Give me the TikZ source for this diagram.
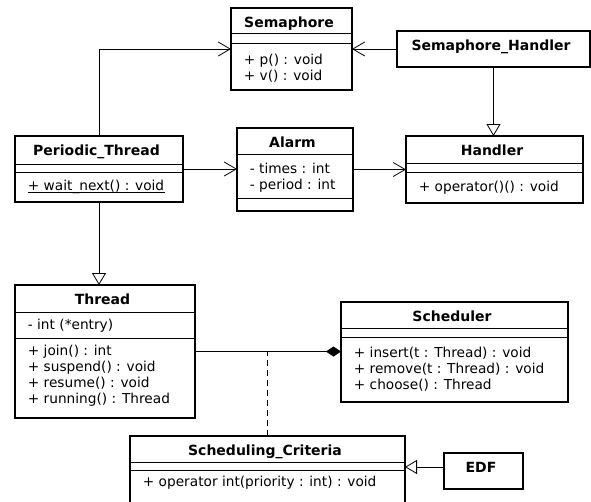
\documentclass[tikz,border=0pt]{standalone}
\usepackage{fontspec}
\setmainfont{DejaVu Sans}
\usetikzlibrary{arrows.meta}

\newcommand{\umlfont}{\fontsize{13.7}{16}\selectfont}
\newcommand{\umlbold}{\fontsize{14}{16}\selectfont\bfseries}

\begin{document}
\begin{tikzpicture}
[x=1pt,y=-1pt,line width=0.8pt]

  \tikzstyle{class}=[draw=black,line width=1.6pt,anchor=north west,inner sep=0pt,outer sep=0pt]
  \tikzstyle{cname}=[font=\umlbold,anchor=base,inner sep=0pt,xshift=-2.5pt]
  \tikzstyle{member}=[font=\umlfont,anchor=base west,inner sep=0pt]
  \tikzstyle{split}=[line width=0.8pt]
  \tikzstyle{uses}=[-{Straight Barb[length=12pt,width=14pt]}]
  \tikzstyle{extends}=[-{Triangle[open,length=12pt,width=14pt]}]
  \tikzstyle{owns}=[-{Diamond[length=15pt,width=10pt]}]

  \path[fill=white,use as bounding box] (0,0) rectangle (591,501);

  % classes
  \node[class,minimum width=121,minimum height=82]  (sem)    at (231,8)   {};
  \node[class,minimum width=193,minimum height=36]  (semh)   at (397,31)  {};
  \node[class,minimum width=168,minimum height=66]  (per)    at (15,136)  {};
  \node[class,minimum width=116,minimum height=83]  (alarm)  at (237,128) {};
  \node[class,minimum width=177,minimum height=67]  (hand)   at (406,136) {};
  \node[class,minimum width=180,minimum height=133] (thread) at (15,285)  {};
  \node[class,minimum width=227,minimum height=100] (sched)  at (341,302) {};
  \node[class,minimum width=275,minimum height=67]  (crit)   at (130,436) {};
  \node[class,minimum width=79,minimum height=36]   (edf)    at (444,453) {};

  % class names
  \foreach \n/\t in {sem/Semaphore, semh/Semaphore\_Handler, per/Periodic\_Thread,
                     alarm/Alarm, hand/Handler, thread/Thread, sched/Scheduler,
                     crit/Scheduling\_Criteria, edf/EDF}
    \node[cname] (\n N) at ([yshift=-19pt]\n.north) {\t};

  % compartments
  \foreach \n/\a/\b in {sem/25/35, per/28/36, alarm/26/70, hand/27/36,
                        thread/27/53, sched/26/35, crit/26/34} {
    \draw[split] ([yshift=-\a pt]\n.north west) -- ([yshift=-\a pt]\n.north east);
    \draw[split] ([yshift=-\b pt]\n.north west) -- ([yshift=-\b pt]\n.north east);
  }

  % members
  \foreach \t [count=\i from 0] in {{+ p() : void}, {+ v() : void}}
    \node[member] (semM\i) at ([xshift=12.5pt,yshift={-56pt-16pt*\i}]sem.north west) {\t};
  \node[member] (perM0) at ([xshift=12.5pt,yshift=-54pt]per.north west) {+ wait\_next() : void};
  \draw ([yshift=-2pt]perM0.base west) -- ([yshift=-2pt]perM0.base east);
  \foreach \t [count=\i from 0] in {{- times : int}, {- period : int}}
    \node[member] (alarmA\i) at ([xshift=12.5pt,yshift={-45pt-16pt*\i}]alarm.north west) {\t};
  \node[member] (handM0) at ([xshift=12.5pt,yshift=-55pt]hand.north west) {+ operator()() : void};
  \node[member] (threadA0) at ([xshift=12.5pt,yshift=-44pt]thread.north west) {- int (*entry)};
  \foreach \t [count=\i from 0] in {{+ join() : int}, {+ suspend() : void},
                                    {+ resume() : void}, {+ running() : Thread}}
    \node[member] (threadM\i) at ([xshift=12.5pt,yshift={-70pt-16pt*\i}]thread.north west) {\t};
  \foreach \t [count=\i from 0] in {{+ insert(t : Thread) : void},
                                    {+ remove(t : Thread) : void}, {+ choose() : Thread}}
    \node[member] (schedM\i) at ([xshift=12.5pt,yshift={-55pt-16pt*\i}]sched.north west) {\t};
  \node[member] (critM0) at ([xshift=12.5pt,yshift=-50pt]crit.north west) {+ operator int(priority : int) : void};

  % relations
  \draw[uses]    (per.north) |- (sem.west);
  \draw[uses]    (semh.west) -- (sem.east);
  \draw[extends] (semh.south) -- (semh.south |- hand.north);
  \draw[uses]    (per.east) -- (per.east -| alarm.west);
  \draw[uses]    (alarm.east) -- (alarm.east -| hand.west);
  \draw[extends] (per.south) -- (per.south |- thread.north);
  \draw[owns]    (thread.east) -- (thread.east -| sched.west);
  \draw[dash pattern=on 6pt off 4pt] (crit.north) -- (crit.north |- thread.east);
  \draw[extends] ([yshift=4pt]edf.west) -- ([yshift=4pt]edf.west -| crit.east);
\end{tikzpicture}
\end{document}
